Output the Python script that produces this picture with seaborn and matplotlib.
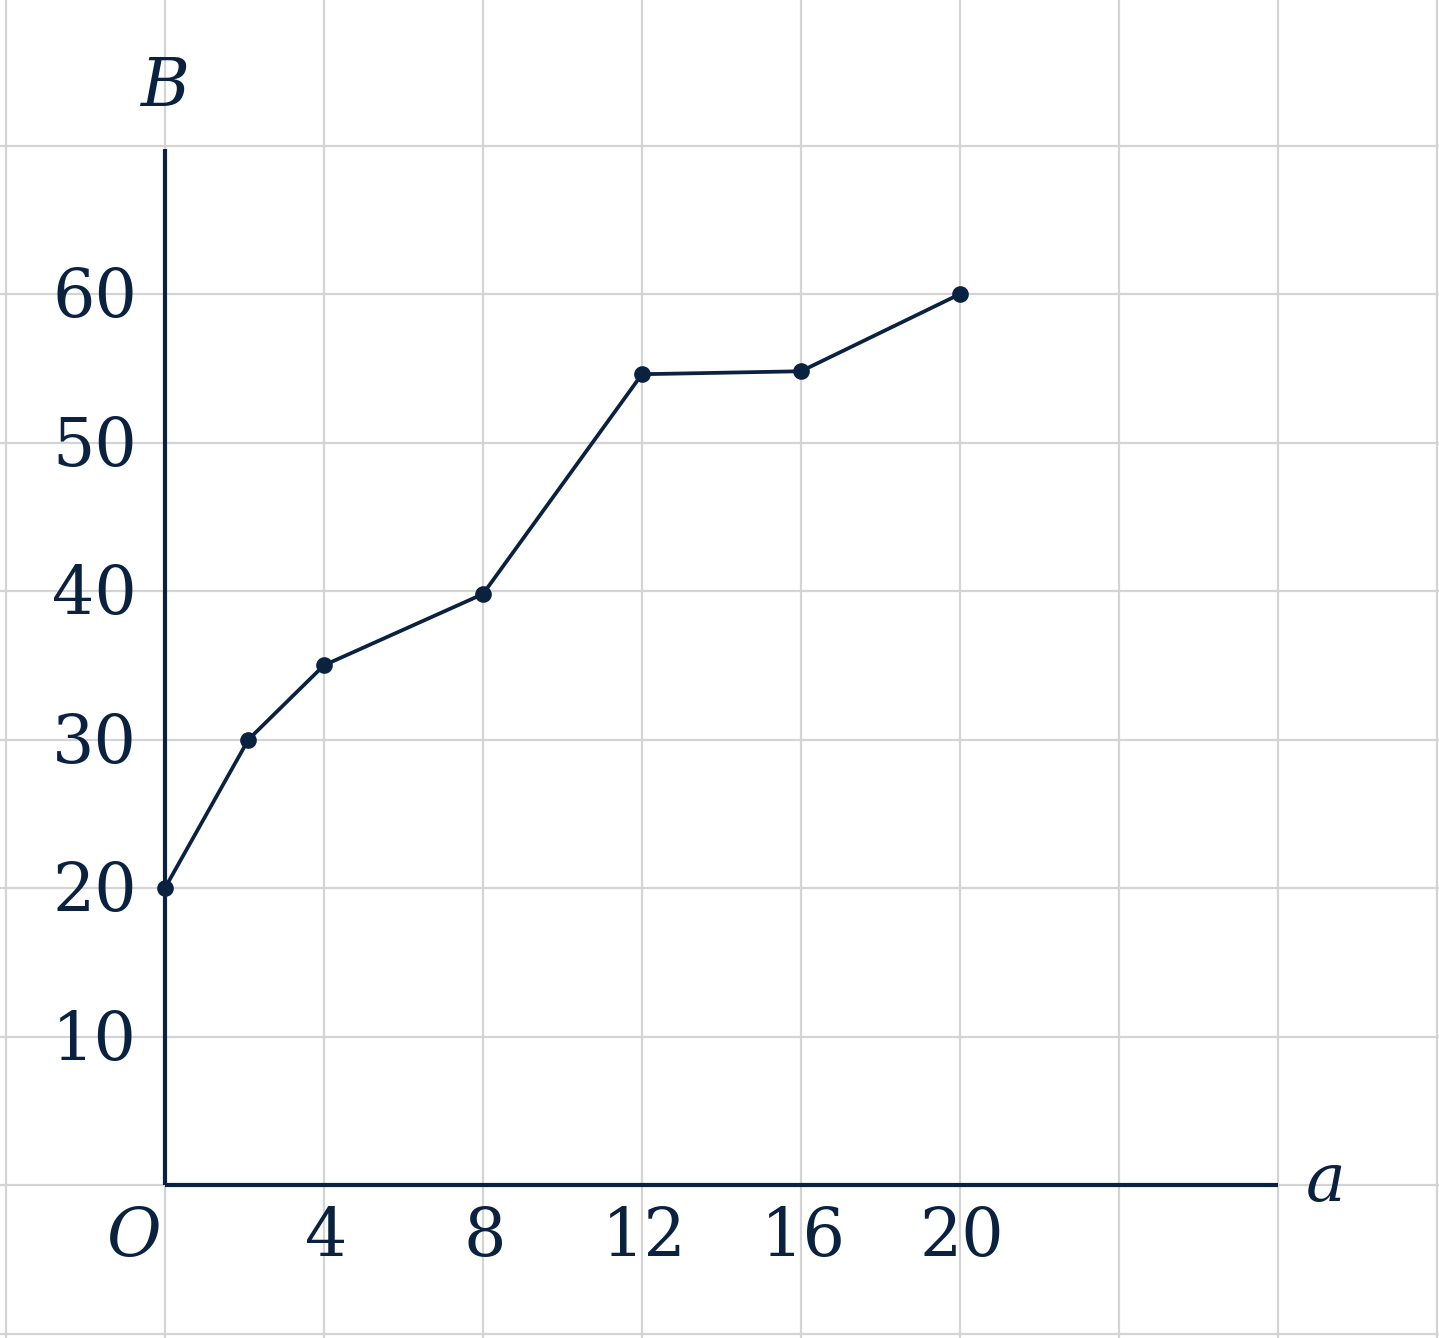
import matplotlib
matplotlib.use("Agg")
import matplotlib.pyplot as plt
import numpy as np
import pandas as pd
import seaborn as sns

# data
a_vals = [0, 2.1, 4, 8, 12, 16, 20]
b_vals = [20, 30, 35, 39.8, 54.6, 54.8, 60]
x_tick_labels = ["4", "8", "12", "16", "20"]
x_tick_pos = [4, 8, 12, 16, 20]
y_tick_labels = ["10", "20", "30", "40", "50", "60"]
y_tick_pos = [10, 20, 30, 40, 50, 60]

NAVY = "#0a2240"
GRID = "#d4d4d4"

sns.set_theme(style="white")
plt.rcParams["font.family"] = ["DejaVu Serif"]

fig = plt.figure(figsize=(14.39, 13.38), dpi=100)
ax = fig.add_axes([0, 0, 1, 1])
for s in ax.spines.values():
    s.set_visible(False)

ax.set_xlim(-4.15, 32.05)
ax.set_ylim(-10.3, 79.8)
ax.set_xticks(np.arange(-4, 33, 4))
ax.set_yticks(np.arange(-10, 80, 10))
ax.tick_params(length=0, labelbottom=False, labelleft=False)
ax.grid(True, color=GRID, linewidth=1.6)
ax.set_axisbelow(True)

# axes
ax.plot([0, 0], [0, 69.8], color=NAVY, lw=3, solid_capstyle="butt", zorder=3)
ax.plot([0, 28], [0, 0], color=NAVY, lw=3, solid_capstyle="butt", zorder=3)

df = pd.DataFrame({"a": a_vals, "B": b_vals})
sns.lineplot(data=df, x="a", y="B", ax=ax, color=NAVY, lw=2.7, marker="o",
             markersize=12, markeredgewidth=0, sort=False, zorder=4)
ax.set_xlabel("")
ax.set_ylabel("")

fs = 48
for p, lab in zip(x_tick_pos, x_tick_labels):
    ax.text(p + 0.05, -1.3, lab, ha="center", va="top", fontsize=fs, color=NAVY)
ax.text(-0.1, -1.3, "O", ha="right", va="top", fontsize=fs, color=NAVY, style="italic")
for p, lab in zip(y_tick_pos, y_tick_labels):
    ax.text(-0.7, p - 0.3, lab, ha="right", va="center", fontsize=fs, color=NAVY)

ax.text(0, 73.9, "B", ha="center", va="center", fontsize=fs, color=NAVY, style="italic")
ax.text(29.2, 0.2, "a", ha="center", va="center", fontsize=fs, color=NAVY, style="italic")

fig.savefig("out.png", dpi=100)
